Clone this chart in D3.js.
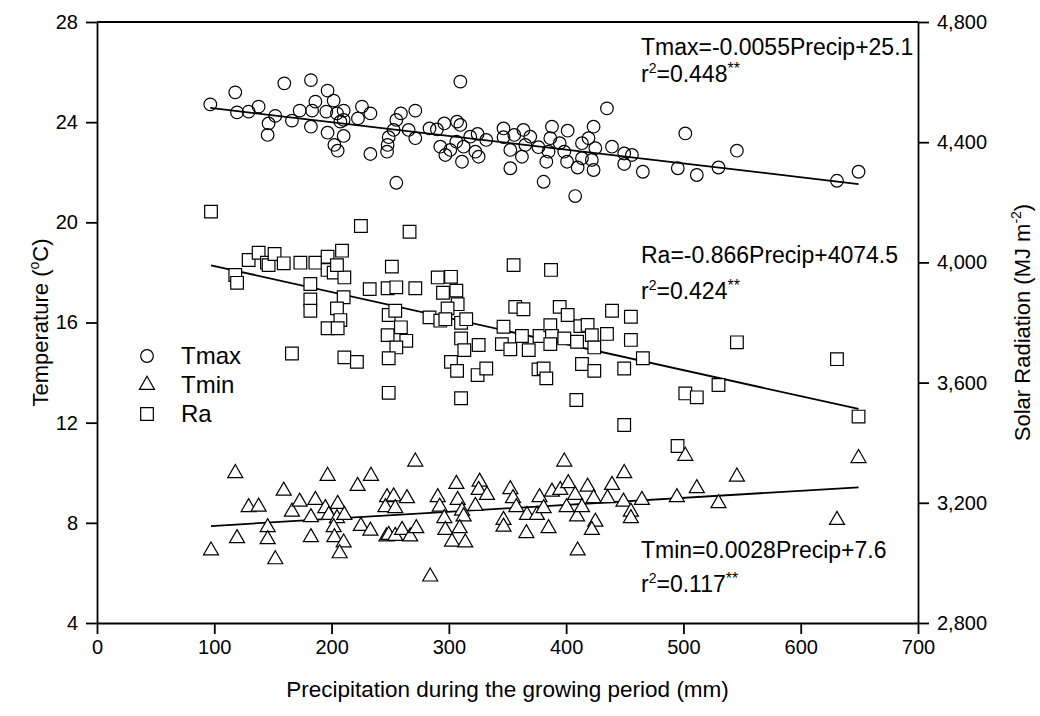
<!DOCTYPE html>
<html>
<head>
    <meta charset="utf-8">
    <title>Temperature and radiation vs precipitation</title>
    <script src="https://cdnjs.cloudflare.com/ajax/libs/d3/7.8.5/d3.min.js"></script>
    <style>
        body { margin: 0; background: #fff; }
        text { font-family: "Liberation Sans", Arial, sans-serif; fill: #000; }
        .axis path, .axis line { stroke: #000; stroke-width: 1.8; }
        .axis text { font-size: 20px; font-family: "Liberation Sans", Arial, sans-serif; }
    </style>
</head>

<body>

<script type="text/javascript">
    // [precip (mm), Tmax (degC)]
    var tmaxData = [
        [96.6,24.71],[117.9,25.19],[119.4,24.39],[129.3,24.42],[137.8,24.62],[146.3,23.95],[145.5,23.49],
        [152.0,24.25],[159.7,25.55],[166.2,24.06],[172.8,24.46],[182.4,25.68],[182.4,23.82],[183.4,24.46],
        [186.2,24.82],[196.6,25.26],[195.5,24.42],[196.6,23.58],[201.8,24.86],[204.6,24.35],[210.3,24.46],
        [210.3,24.09],[210.3,23.45],[202.4,23.09],[205.2,22.86],[207.5,24.02],[222.5,24.15],[225.9,24.62],
        [233.1,24.35],[233.1,22.73],[255.2,21.58],[247.3,22.82],[247.8,23.09],[248.7,23.40],[255.2,24.09],
        [259.1,24.35],[265.7,23.69],[271.4,23.36],[271.4,24.46],[252.9,23.69],[309.8,25.62],[283.5,23.75],
        [289.8,23.71],[296.1,23.95],[292.7,23.02],[297.0,22.69],[301.2,22.89],[307.0,24.02],[309.8,23.89],
        [306.4,23.22],[311.2,22.42],[312.6,23.02],[318.2,23.42],[324.5,23.53],[322.6,22.82],[325.4,22.62],
        [331.9,23.29],[346.6,23.75],[346.6,23.40],[355.8,23.49],[352.4,22.89],[352.4,22.16],[362.3,22.62],
        [363.6,23.69],[369.4,23.42],[365.2,23.09],[376.4,23.00],[380.8,21.62],[383.1,22.42],[385.0,22.82],
        [387.9,23.82],[386.5,23.36],[394.5,23.16],[401.3,23.66],[400.8,22.42],[398.4,22.82],[407.7,21.05],
        [409.8,22.19],[413.5,22.56],[413.5,23.16],[419.1,23.36],[423.4,23.82],[423.4,22.09],[421.9,22.49],
        [424.9,22.96],[434.8,24.55],[439.1,23.02],[449.5,22.75],[449.5,22.33],[456.1,22.69],[465.4,22.02],
        [501.6,23.55],[495.2,22.16],[511.4,21.89],[529.9,22.19],[545.6,22.86],[630.9,21.66],[649.3,22.02]
    ];

    // [precip (mm), Tmin (degC)]
    var tminData = [
        [117.9,9.98],[97.2,6.89],[119.4,7.38],[129.3,8.62],[137.8,8.64],[145.5,7.82],[145.5,7.34],
        [152.0,6.54],[159.2,9.28],[166.2,8.44],[172.8,8.84],[182.4,8.22],[186.2,8.91],[182.4,7.42],
        [196.6,9.87],[194.7,8.58],[205.2,8.75],[197.6,8.31],[204.6,8.18],[210.9,8.31],[201.8,7.82],
        [202.4,7.42],[210.3,7.21],[206.9,6.78],[222.2,9.47],[233.6,9.87],[225.0,7.87],[233.1,7.68],
        [247.3,9.02],[245.9,8.62],[246.8,7.45],[271.4,10.44],[252.9,9.05],[264.3,8.98],[254.3,8.58],
        [248.7,7.51],[254.3,7.47],[260.1,7.71],[267.0,7.45],[272.2,7.78],[284.1,5.85],[290.5,9.02],
        [292.2,8.64],[296.1,8.18],[297.0,7.71],[302.7,7.24],[306.4,9.55],[307.5,8.91],[311.2,8.48],
        [312.6,8.25],[314.0,7.21],[309.2,7.78],[326.2,9.64],[325.4,9.31],[332.5,9.11],[322.6,8.67],
        [346.6,8.11],[346.6,7.84],[352.4,9.34],[354.7,8.98],[357.5,8.62],[366.1,7.58],[366.6,8.31],
        [375.1,8.31],[377.3,9.02],[380.8,8.58],[385.0,7.78],[387.9,9.24],[395.0,9.31],[398.4,10.44],
        [401.8,9.58],[400.4,8.62],[407.7,9.11],[409.3,8.25],[413.5,8.62],[418.3,9.44],[423.4,8.98],
        [424.9,8.04],[421.9,7.71],[409.8,6.89],[439.1,9.51],[435.3,8.98],[449.5,9.98],[448.9,8.84],
        [455.2,8.44],[455.2,8.18],[464.6,8.91],[494.4,9.02],[501.6,10.67],[511.4,9.38],[529.9,8.78],
        [545.6,9.84],[630.9,8.11],[649.3,10.58]
    ];

    // [precip (mm), Ra (MJ m-2)]
    var raData = [
        [97.2,4169],[117.9,3958],[119.4,3932],[129.3,4008],[137.8,4032],[144.9,3999],[146.3,3991],
        [151.4,4028],[159.2,3997],[173.4,3999],[186.2,3999],[196.6,4019],[196.6,3975],[201.8,3966],
        [208.9,4039],[210.9,3950],[204.6,3991],[181.9,3928],[181.9,3877],[181.9,3839],[210.3,3884],
        [204.6,3847],[207.5,3808],[196.6,3781],[205.2,3781],[166.2,3697],[210.9,3684],[221.6,3669],
        [225.0,4121],[232.5,3911],[266.5,4102],[251.4,3986],[247.8,3914],[255.2,3917],[271.4,3914],
        [248.7,3825],[254.3,3839],[259.1,3784],[247.8,3758],[263.7,3739],[255.2,3717],[248.7,3681],
        [248.7,3566],[290.5,3950],[301.8,3952],[295.0,3899],[306.4,3906],[307.5,3861],[298.9,3847],
        [283.5,3817],[292.7,3806],[297.0,3811],[310.4,3799],[314.8,3811],[310.4,3747],[313.2,3708],
        [325.4,3725],[301.8,3669],[307.0,3639],[310.4,3548],[324.5,3625],[331.9,3647],[355.2,3991],
        [356.6,3852],[363.6,3844],[346.6,3786],[345.2,3728],[352.4,3711],[362.3,3755],[368.1,3708],
        [377.3,3755],[386.5,3791],[387.9,3755],[386.5,3728],[376.4,3644],[380.8,3647],[383.1,3614],
        [387.1,3975],[394.5,3852],[401.3,3825],[398.4,3747],[409.3,3736],[412.1,3788],[418.3,3792],
        [421.9,3758],[424.0,3717],[434.8,3762],[439.1,3839],[455.2,3819],[455.2,3742],[465.4,3681],
        [413.5,3662],[424.0,3639],[449.5,3647],[408.7,3542],[449.5,3459],[529.9,3592],[501.6,3564],
        [511.4,3551],[649.3,3487],[495.0,3389],[545.6,3734],[630.9,3678]
    ];

    var xTicks = [0, 100, 200, 300, 400, 500, 600, 700],
        tempTicks = [4, 8, 12, 16, 20, 24, 28],
        raTicks = [2800, 3200, 3600, 4000, 4400, 4800];

    // fitted lines: slope, intercept
    var tmaxFit = [-0.0055, 25.1],
        raFit = [-0.866, 4074.5],
        tminFit = [0.0028, 7.6];

    var width = 1040,
        height = 716,
        plotLeft = 97,
        plotRight = 918,
        plotTop = 22,
        plotBottom = 623,
        fontSize = 23,
        svg;

    svg = d3.select("body").append("svg")
        .attr("width", width)
        .attr("height", height);

    var x = d3.scaleLinear().domain([0, 700]).range([plotLeft, plotRight]),
        yT = d3.scaleLinear().domain([4, 28]).range([plotBottom, plotTop]),
        yR = d3.scaleLinear().domain([2800, 4800]).range([plotBottom, plotTop]);

    // axes
    svg.append("g")
        .attr("class", "axis")
        .attr("transform", "translate(0," + plotBottom + ")")
        .call(d3.axisBottom(x).tickValues(xTicks).tickSize(11).tickSizeOuter(0).tickPadding(6));

    svg.append("g")
        .attr("class", "axis")
        .attr("transform", "translate(" + plotLeft + ",0)")
        .call(d3.axisLeft(yT).tickValues(tempTicks).tickSize(11).tickSizeOuter(0).tickPadding(8));

    svg.append("g")
        .attr("class", "axis")
        .attr("transform", "translate(" + plotRight + ",0)")
        .call(d3.axisRight(yR).tickValues(raTicks).tickFormat(d3.format(",")).tickSize(11).tickSizeOuter(0).tickPadding(8));

    svg.append("line")
        .attr("x1", plotLeft).attr("x2", plotRight)
        .attr("y1", plotTop).attr("y2", plotTop)
        .attr("stroke", "#000").attr("stroke-width", 1.8);

    // fitted lines
    function fitLine(data, fit, y){
        var ext = d3.extent(data, function(d){ return d[0]; });
        svg.append("line")
            .attr("x1", x(ext[0])).attr("y1", y(fit[0] * ext[0] + fit[1]))
            .attr("x2", x(ext[1])).attr("y2", y(fit[0] * ext[1] + fit[1]))
            .attr("stroke", "#000")
            .attr("stroke-width", 1.8);
    }

    fitLine(tmaxData, tmaxFit, yT);
    fitLine(raData, raFit, yR);
    fitLine(tminData, tminFit, yT);

    // points
    var circle = d3.symbol().type(d3.symbolCircle).size(125),
        triangle = d3.symbol().type(d3.symbolTriangle).size(98),
        square = d3.symbol().type(d3.symbolSquare).size(160);

    function plotPoints(data, y, sym, fill){
        svg.append("g").selectAll("path")
            .data(data)
            .enter().append("path")
            .attr("d", sym)
            .attr("transform", function(d){ return "translate(" + x(d[0]) + "," + y(d[1]) + ")"; })
            .attr("fill", fill)
            .attr("stroke", "#000")
            .attr("stroke-width", 1.2);
    }

    plotPoints(raData, yR, square, "#fff");
    plotPoints(tminData, yT, triangle, "#fff");
    plotPoints(tmaxData, yT, circle, "none");

    // legend
    var legend = [["Tmax", circle, "none"], ["Tmin", triangle, "#fff"], ["Ra", square, "#fff"]];
    legend.forEach(function(l, i){
        var cy = 356 + i * 29;
        svg.append("path")
            .attr("d", l[1])
            .attr("transform", "translate(147," + cy + ")")
            .attr("fill", l[2])
            .attr("stroke", "#000")
            .attr("stroke-width", 1.2);
        svg.append("text")
            .attr("x", 181).attr("y", cy + 8)
            .style("font-size", "24px")
            .text(l[0]);
    });

    // equations
    function equation(y, main){
        svg.append("text")
            .attr("x", 641).attr("y", y)
            .style("font-size", fontSize + "px")
            .text(main);
    }

    function rsq(y, value){
        var t = svg.append("text")
            .attr("x", 641).attr("y", y)
            .style("font-size", fontSize + "px");
        t.append("tspan").text("r");
        t.append("tspan").attr("dy", -9).style("font-size", "14px").text("2");
        t.append("tspan").attr("dy", 9).text("=" + value);
        t.append("tspan").attr("dy", -8).style("font-size", "16px").text("**");
    }

    equation(55, "Tmax=-0.0055Precip+25.1");
    rsq(82, "0.448");
    equation(263, "Ra=-0.866Precip+4074.5");
    rsq(299, "0.424");
    equation(558, "Tmin=0.0028Precip+7.6");
    rsq(592, "0.117");

    // axis titles
    svg.append("text")
        .attr("x", (plotLeft + plotRight) / 2).attr("y", 697)
        .attr("text-anchor", "middle")
        .style("font-size", "22.5px")
        .text("Precipitation during the growing period (mm)");

    var lt = svg.append("text")
        .attr("transform", "translate(48," + (plotTop + plotBottom) / 2 + ") rotate(-90)")
        .attr("text-anchor", "middle")
        .style("font-size", "22px");
    lt.append("tspan").text("Temperature (");
    lt.append("tspan").attr("dy", -9).style("font-size", "14px").text("o");
    lt.append("tspan").attr("dy", 9).text("C)");

    var rt = svg.append("text")
        .attr("transform", "translate(1030," + (plotTop + plotBottom) / 2 + ") rotate(-90)")
        .attr("text-anchor", "middle")
        .style("font-size", "22px");
    rt.append("tspan").text("Solar Radiation (MJ m");
    rt.append("tspan").attr("dy", -9).style("font-size", "14px").text("-2");
    rt.append("tspan").attr("dy", 9).text(")");
</script>

</body>

</html>
